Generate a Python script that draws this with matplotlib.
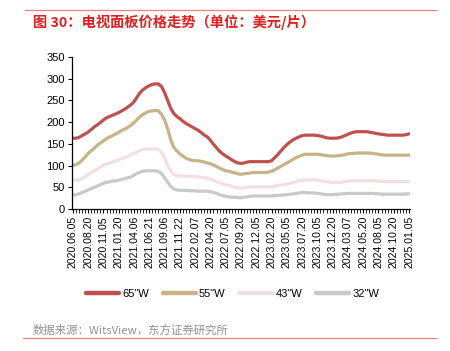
import matplotlib
matplotlib.use("Agg")
import matplotlib.pyplot as plt
from matplotlib.lines import Line2D

plt.rcParams['font.family'] = ['Liberation Sans', 'Noto Sans CJK SC', 'DejaVu Sans']

tick_labels = ["2020.06.05", "2020.08.20", "2020.11.05", "2021.01.20", "2021.04.06",
               "2021.06.21", "2021.09.06", "2021.11.22", "2022.02.07", "2022.04.20",
               "2022.07.05", "2022.09.20", "2022.12.05", "2023.02.20", "2023.05.05",
               "2023.07.20", "2023.10.05", "2023.12.20", "2024.03.07", "2024.05.20",
               "2024.08.05", "2024.10.20", "2025.01.05"]
tick_step = 5

p65 = [163, 163, 165, 169, 173, 177, 183, 189, 194, 199,
       205, 210, 213, 216, 219, 222, 226, 230, 235, 240,
       247, 258, 268, 275, 280, 284, 287, 288, 288, 282,
       268, 250, 232, 220, 213, 208, 202, 197, 193, 189,
       185, 181, 176, 170, 166, 158, 149, 141, 133, 127,
       122, 118, 113, 109, 106, 105, 106, 108, 109, 109,
       109, 109, 109, 109, 109, 111, 118, 125, 133, 141,
       148, 154, 159, 163, 166, 169, 170, 170, 170, 170,
       169, 168, 166, 164, 163, 163, 163, 164, 166, 169,
       172, 175, 177, 178, 178, 178, 178, 177, 176, 174,
       173, 172, 171, 170, 170, 170, 170, 170, 170, 171,
       173]
p55 = [101, 102, 106, 112, 120, 128, 134, 140, 147, 152,
       157, 162, 166, 169, 173, 177, 181, 184, 188, 193,
       199, 206, 213, 218, 222, 225, 226, 227, 226, 218,
       205, 185, 160, 142, 134, 127, 122, 117, 114, 112,
       111, 111, 110, 108, 106, 104, 101, 98, 94, 91,
       88, 87, 85, 83, 81, 80, 81, 82, 83, 84,
       84, 84, 84, 84, 85, 87, 90, 94, 98, 102,
       106, 110, 114, 118, 121, 124, 126, 126, 126, 126,
       126, 125, 124, 123, 122, 122, 122, 123, 124, 125,
       127, 128, 128, 129, 129, 129, 129, 129, 128, 127,
       126, 125, 124, 124, 124, 124, 124, 124, 124, 124,
       124]
p43 = [67, 67, 67, 70, 74, 79, 84, 88, 92, 97,
       101, 104, 106, 108, 110, 113, 116, 118, 121, 125,
       128, 131, 135, 137, 138, 138, 138, 138, 137, 130,
       118, 100, 88, 79, 77, 76, 76, 76, 75, 75,
       74, 74, 73, 72, 71, 69, 66, 63, 60, 58,
       56, 54, 52, 50, 49, 48, 49, 50, 51, 51,
       51, 51, 51, 51, 51, 51, 52, 54, 55, 56,
       57, 59, 61, 63, 65, 66, 67, 67, 67, 67,
       66, 65, 64, 63, 62, 61, 61, 61, 62, 63,
       64, 65, 65, 65, 65, 65, 65, 65, 65, 65,
       64, 64, 63, 63, 63, 63, 63, 63, 63, 63,
       63]
p32 = [32, 33, 35, 38, 41, 44, 47, 50, 53, 56,
       59, 61, 63, 64, 65, 66, 68, 70, 72, 74,
       78, 82, 85, 87, 88, 88, 88, 88, 86, 82,
       72, 62, 52, 46, 44, 43, 43, 43, 42, 42,
       42, 41, 41, 41, 41, 40, 38, 36, 33, 31,
       29, 28, 27, 27, 26, 26, 27, 28, 29, 30,
       30, 30, 30, 30, 30, 30, 31, 31, 32, 32,
       33, 34, 35, 36, 37, 38, 38, 37, 37, 37,
       36, 35, 34, 33, 33, 33, 34, 34, 35, 35,
       36, 36, 36, 36, 36, 36, 36, 36, 36, 35,
       35, 34, 34, 34, 34, 34, 34, 34, 34, 35,
       35]

series = [("65\"W", p65, "#C0504D"),
          ("55\"W", p55, "#C6B387"),
          ("43\"W", p43, "#F2DFE0"),
          ("32\"W", p32, "#C9C9C9")]

fig = plt.figure(figsize=(4.5, 3.51), dpi=100)
ax = fig.add_axes([0.16, 0.4046, 0.751, 0.433])

x = list(range(len(p65)))
for name, vals, col in series:
    ax.plot(x, vals, color=col, lw=2.3, solid_capstyle='round', solid_joinstyle='round')

ax.set_ylim(0, 350)
ax.set_yticks(range(0, 351, 50))
ax.set_xlim(-0.3, len(p65) - 0.7)
ax.set_xticks([i * tick_step for i in range(len(tick_labels))])
ax.set_xticklabels(tick_labels, rotation=90, fontsize=7.6)
ax.set_xticks(x, minor=True)
ax.tick_params(axis='x', which='major', length=3, width=0.8, direction='out', pad=2)
ax.tick_params(axis='x', which='minor', length=3, width=0.6, direction='out')
ax.tick_params(axis='y', which='major', length=3, width=0.8, direction='out', labelsize=8, pad=2)
for s in ['top', 'right']:
    ax.spines[s].set_visible(False)
for s in ['left', 'bottom']:
    ax.spines[s].set_linewidth(0.9)
    ax.spines[s].set_color('black')

handles = [Line2D([0], [0], color=c, lw=3.2, solid_capstyle='round') for _, _, c in series]
fig.legend(handles, [n for n, _, _ in series], loc='center', bbox_to_anchor=(232.5 / 450, 0.163),
           ncol=4, frameon=False, fontsize=8, handlelength=3.0, handletextpad=0.25,
           columnspacing=1.25)

# title and footer
fig.add_artist(Line2D([25 / 450, 436 / 450], [1 - 10 / 351, 1 - 10 / 351],
                      color='#F08080', lw=0.9))
fig.text(33 / 450, 1 - 22 / 351, "图 30：电视面板价格走势（单位：美元/片）",
         family=['Noto Sans CJK SC', 'DejaVu Sans'], fontsize=10.3, fontweight='bold',
         color='#E02020', va='center', ha='left')
fig.text(33 / 450, 1 - 330 / 351, "数据来源：WitsView，东方证券研究所",
         family=['Noto Sans CJK SC', 'DejaVu Sans'], fontsize=8.2,
         color='#909090', va='center', ha='left')
fig.add_artist(Line2D([23 / 450, 436 / 450], [1 - 338 / 351, 1 - 338 / 351],
                      color='#F08080', lw=0.9))

fig.savefig("out.png", dpi=100)
